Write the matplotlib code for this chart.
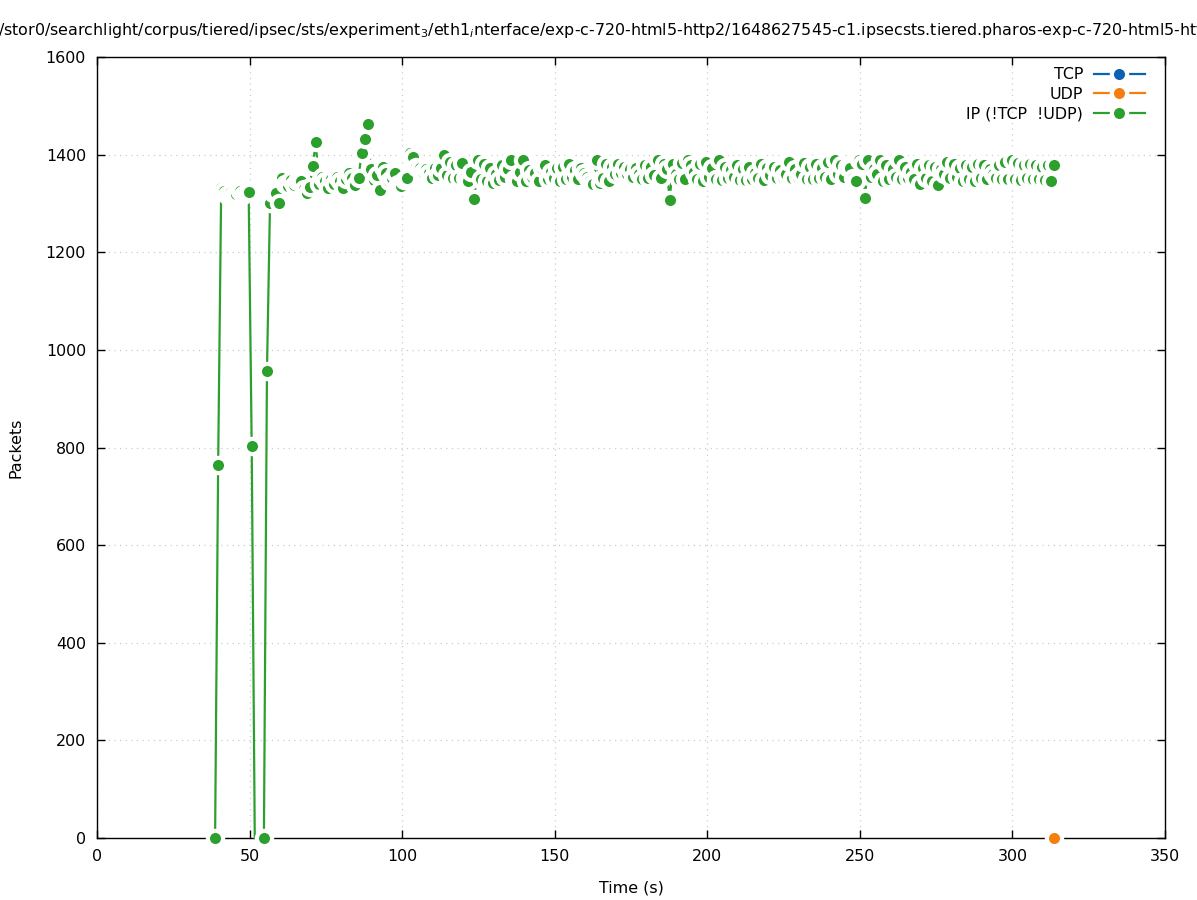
import numpy as np
import matplotlib
matplotlib.use("Agg")
import matplotlib.pyplot as plt

# ---- data ----
start_time = 38.7
step = 1.0
ip_values = [
    0, 765, 1332, 1325, 1318, 1322, 1315, 1320, 1326, 1318,
    1322, 1323, 803, 0, np.nan, np.nan, 0, 956, 1300, 1322,
    1322, 1300, 1352, 1340, 1335, 1348, 1338, 1345, 1345, 1330,
    1321, 1334, 1377, 1426, 1340, 1355, 1345, 1332, 1350, 1340,
    1355, 1345, 1332, 1350, 1362, 1353, 1338, 1352, 1403, 1433,
    1462, 1370, 1348, 1358, 1328, 1375, 1362, 1345, 1352, 1362,
    1340, 1336, 1348, 1352, 1403, 1395, 1375, 1372, 1365, 1370,
    1362, 1352, 1372, 1358, 1372, 1400, 1358, 1385, 1352, 1378,
    1352, 1383, 1352, 1345, 1365, 1310, 1388, 1350, 1380, 1345,
    1372, 1342, 1360, 1348, 1378, 1355, 1370, 1388, 1350, 1345,
    1365, 1390, 1345, 1368, 1355, 1362, 1345, 1372, 1378, 1350,
    1365, 1352, 1372, 1345, 1375, 1350, 1380, 1355, 1368, 1350,
    1372, 1362, 1355, 1345, 1340, 1388, 1342, 1352, 1380, 1345,
    1375, 1360, 1380, 1362, 1375, 1360, 1370, 1355, 1372, 1360,
    1350, 1378, 1352, 1375, 1358, 1388, 1353, 1380, 1370, 1308,
    1380, 1360, 1350, 1382, 1350, 1390, 1378, 1365, 1350, 1380,
    1345, 1385, 1355, 1372, 1350, 1388, 1348, 1375, 1352, 1368,
    1355, 1378, 1348, 1370, 1348, 1375, 1350, 1362, 1352, 1380,
    1348, 1372, 1358, 1375, 1352, 1368, 1355, 1360, 1385, 1352,
    1370, 1355, 1360, 1382, 1350, 1375, 1350, 1380, 1352, 1372,
    1355, 1385, 1350, 1388, 1360, 1378, 1355, 1375, 1372, 1352,
    1345, 1388, 1380, 1312, 1388, 1355, 1370, 1360, 1390, 1345,
    1378, 1350, 1370, 1355, 1390, 1350, 1375, 1352, 1365, 1350,
    1380, 1340, 1372, 1352, 1378, 1345, 1375, 1338, 1370, 1360,
    1385, 1352, 1380, 1355, 1372, 1345, 1378, 1350, 1375, 1345,
    1380, 1352, 1378, 1350, 1370, 1360, 1352, 1378, 1350, 1385,
    1350, 1388, 1350, 1382, 1348, 1378, 1352, 1380, 1350, 1378,
    1350, 1375, 1348, 1378, 1346, 1378,
]
ip_time = start_time + step * np.arange(len(ip_values))
udp_time = [313.7]
udp_values = [0]
tcp_time = []
tcp_values = []

series_labels = ["TCP", "UDP", "IP (!TCP  !UDP)"]
title_text = ("/stor0/searchlight/corpus/tiered/ipsec/sts/experiment$_3$/eth1$_i$nterface/"
              "exp-c-720-html5-http2/1648627545-c1.ipsecsts.tiered.pharos-exp-c-720-html5-http2")

# ---- figure ----
plt.rcParams['font.family'] = ['DejaVu Sans']
fs = 11.4
fig = plt.figure(figsize=(11.97, 9.0), dpi=100)
ax = fig.add_axes([97/1197, 62/900, (1165-97)/1197, (838-57)/900])

colors = ["#0b62b2", "#f57f0e", "#2ca02c"]
mk = dict(marker='o', markersize=11, markeredgecolor='white', markeredgewidth=3, linewidth=1.6)

# marker hidden on the second zero sample, as in the reference
ip_marks = [i for i in range(len(ip_values)) if i != 13]

h_tcp, = ax.plot(tcp_time, tcp_values, color=colors[0], label=series_labels[0], **mk)
h_udp, = ax.plot(udp_time, udp_values, color=colors[1], label=series_labels[1], clip_on=False, zorder=4, **mk)
h_ip, = ax.plot(ip_time, ip_values, color=colors[2], label=series_labels[2], clip_on=False, zorder=3,
                markevery=ip_marks, **mk)

ax.set_xlim(0, 350)
ax.set_ylim(0, 1600)
ax.set_xticks(np.arange(0, 351, 50))
ax.set_yticks(np.arange(0, 1601, 200))
ax.tick_params(direction='in', top=True, right=True, length=6, width=1, labelsize=fs, pad=8)
ax.grid(True, color='#cccccc', linestyle=(0, (1, 3.5)), linewidth=0.9)
ax.set_axisbelow(True)
for s in ax.spines.values():
    s.set_linewidth(1.0)

ax.set_xlabel("Time (s)", fontsize=fs, labelpad=12)
ax.set_ylabel("Packets", fontsize=fs, labelpad=16)

h_ip_leg, = ax.plot([], [], color=colors[2], **mk)
leg = ax.legend(handles=[h_tcp, h_udp, h_ip_leg], labels=series_labels, loc='upper right',
                bbox_to_anchor=(0.981, 0.987), frameon=False,
                markerfirst=False, fontsize=fs, handlelength=3.2, labelspacing=0.3,
                borderaxespad=0.0, borderpad=0.0, handletextpad=0.7)
for t in leg.get_texts():
    t.set_ha('right')

fig.text(-0.002, 1 - 31/900, title_text, ha='left', va='center', fontsize=fs)

fig.savefig("out.png", dpi=100)
